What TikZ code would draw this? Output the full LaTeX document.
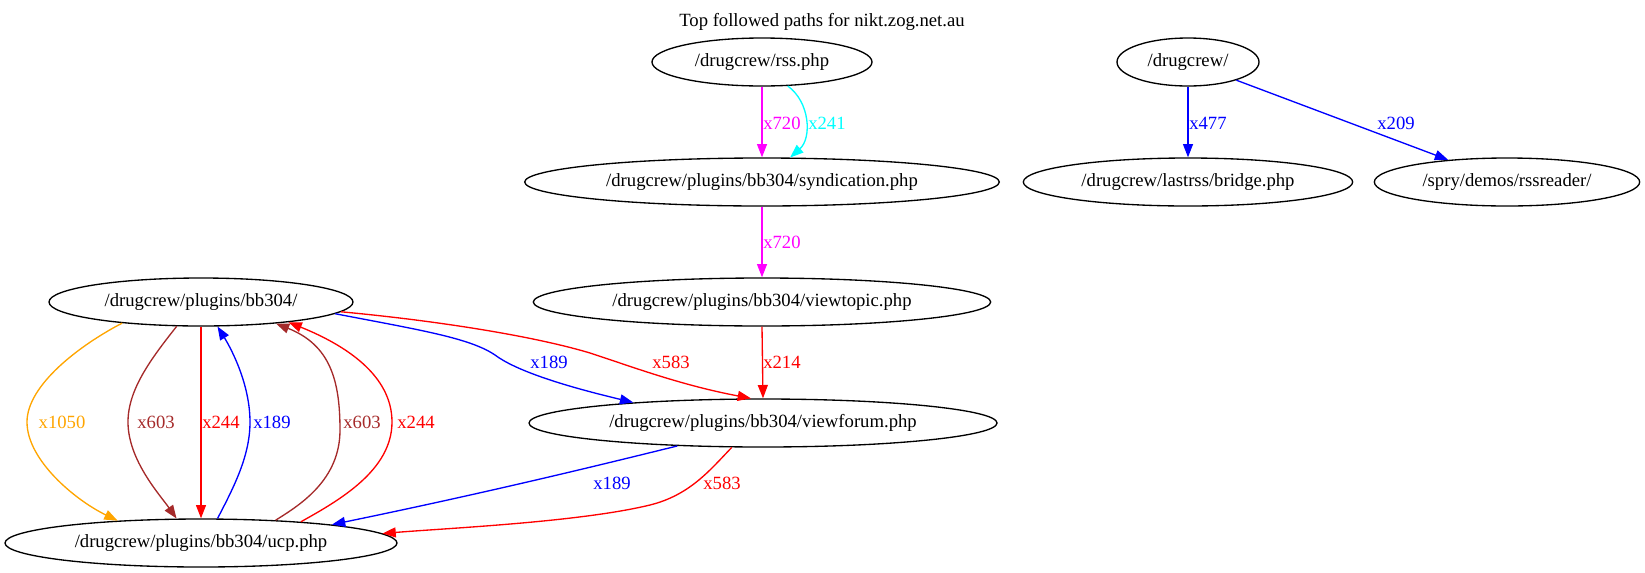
\documentclass[tikz,border=0pt]{standalone}
\usepackage{fontspec}
\setmainfont{Liberation Serif}
\usetikzlibrary{shapes.geometric,arrows.meta}
\definecolor{gvorange}{HTML}{FFA500}
\definecolor{gvbrown}{HTML}{A52A2A}
\definecolor{gvred}{HTML}{FF0000}
\definecolor{gvblue}{HTML}{0000FF}
\definecolor{gvmagenta}{HTML}{FF00FF}
\definecolor{gvcyan}{HTML}{00FFFF}
\begin{document}
\begin{tikzpicture}[x=0.75pt,y=-0.75pt,
  nd/.style={draw,ellipse,line width=1pt,inner sep=0pt,minimum height=36pt,font=\fontsize{14}{16}\selectfont},
  lbl/.style={inner sep=0pt,font=\fontsize{14}{16}\selectfont},
  ed/.style={line width=1pt,-{Triangle[length=10pt,width=7.5pt]}}]
\useasboundingbox (0,0) rectangle (1645,572);

% title
\node[lbl] (title) at (822,22) {Top followed paths for nikt.zog.net.au};

% nodes
\node[nd,minimum width=165pt] (rss) at (762,62) {/drugcrew/rss.php};
\node[nd,minimum width=106.5pt] (drug) at (1188,62) {/drugcrew/};
\node[nd,minimum width=356pt] (synd) at (762,182) {/drugcrew/plugins/bb304/syndication.php};
\node[nd,minimum width=247pt] (bridge) at (1188,182) {/drugcrew/lastrss/bridge.php};
\node[nd,minimum width=199pt] (rssr) at (1507,182) {/spry/demos/rssreader/};
\node[nd,minimum width=228pt] (bb) at (201,302) {/drugcrew/plugins/bb304/};
\node[nd,minimum width=343pt] (vt) at (762,302) {/drugcrew/plugins/bb304/viewtopic.php};
\node[nd,minimum width=351pt] (vf) at (763,423) {/drugcrew/plugins/bb304/viewforum.php};
\node[nd,minimum width=294pt] (ucp) at (201,543) {/drugcrew/plugins/bb304/ucp.php};

% top edges
\draw[ed,gvmagenta] (rss.south) -- (synd.north);
\node[lbl,gvmagenta,anchor=west] (l1) at (763,123) {x720};
\draw[ed,gvcyan] (rss.-43) .. controls (810,102) and (812,138) .. (synd.41.5);
\node[lbl,gvcyan,anchor=west] (l2) at (808,123) {x241};
\draw[ed,gvmagenta] (synd.south) -- (vt.north);
\node[lbl,gvmagenta,anchor=west] (l3) at (763,242) {x720};
\draw[ed,gvred] (vt.south) -- (vf.north);
\node[lbl,gvred,anchor=west] (l4) at (763,362) {x214};
\draw[ed,gvblue] (drug.south) -- (bridge.north);
\node[lbl,gvblue,anchor=west] (l5) at (1189,123) {x477};
\draw[ed,gvblue] (drug) -- (rssr);
\node[lbl,gvblue] (l6) at (1396,123) {x209};

% bb <-> ucp
\draw[ed,gvorange] (bb.195.8) .. controls (80,345) and (27,385) .. (27,422)
  .. controls (27,460) and (75,500) .. (ucp.165.3);
\node[lbl,gvorange] (l7) at (62,422) {x1050};
\draw[ed,gvbrown] (bb.225.9) .. controls (150,360) and (128,390) .. (128,422)
  .. controls (128,460) and (160,495) .. (ucp.135.2);
\node[lbl,gvbrown] (l8) at (156,422) {x603};
\draw[ed,gvred] (bb.south) -- (ucp.north);
\node[lbl,gvred,anchor=west] (l9) at (202,422) {x244};
\draw[ed,gvblue] (ucp.56.2) .. controls (235,485) and (250,455) .. (250,422)
  .. controls (250,385) and (232,350) .. (bb.-56.2);
\node[lbl,gvblue,anchor=west] (l10) at (253,422) {x189};
\draw[ed,gvbrown] (ucp.17.5) .. controls (300,505) and (340,480) .. (340,430)
  .. controls (340,380) and (330,345) .. (bb.-16.3);
\node[lbl,gvbrown] (l11) at (362,422) {x603};
\draw[ed,gvred] (ucp.12.3) .. controls (340,500) and (392,470) .. (392,422)
  .. controls (392,375) and (345,345) .. (bb.-13.8);
\node[lbl,gvred] (l12) at (416,422) {x244};

% bb -> vf
\draw[ed,gvblue] (bb.-5.9) .. controls (420,330) and (470,338) .. (495,355)
  .. controls (515,370) and (560,385) .. (vf.171.3);
\node[lbl,gvblue] (l13) at (549,362) {x189};
\draw[ed,gvred] (bb.-4) .. controls (430,320) and (530,335) .. (590,353)
  .. controls (630,366) and (680,385) .. (vf.116.1);
\node[lbl,gvred] (l14) at (671,362) {x583};

% vf -> ucp
\draw[ed,gvblue] (vf.195.5) .. controls (620,460) and (500,490) .. (ucp.8);
\node[lbl,gvblue] (l15) at (612,483) {x189};
\draw[ed,gvred] (vf.218.4) .. controls (710,470) and (690,495) .. (650,505)
  .. controls (580,522) and (450,528) .. (ucp.3.3);
\node[lbl,gvred] (l16) at (722,483) {x583};
\end{tikzpicture}
\end{document}
